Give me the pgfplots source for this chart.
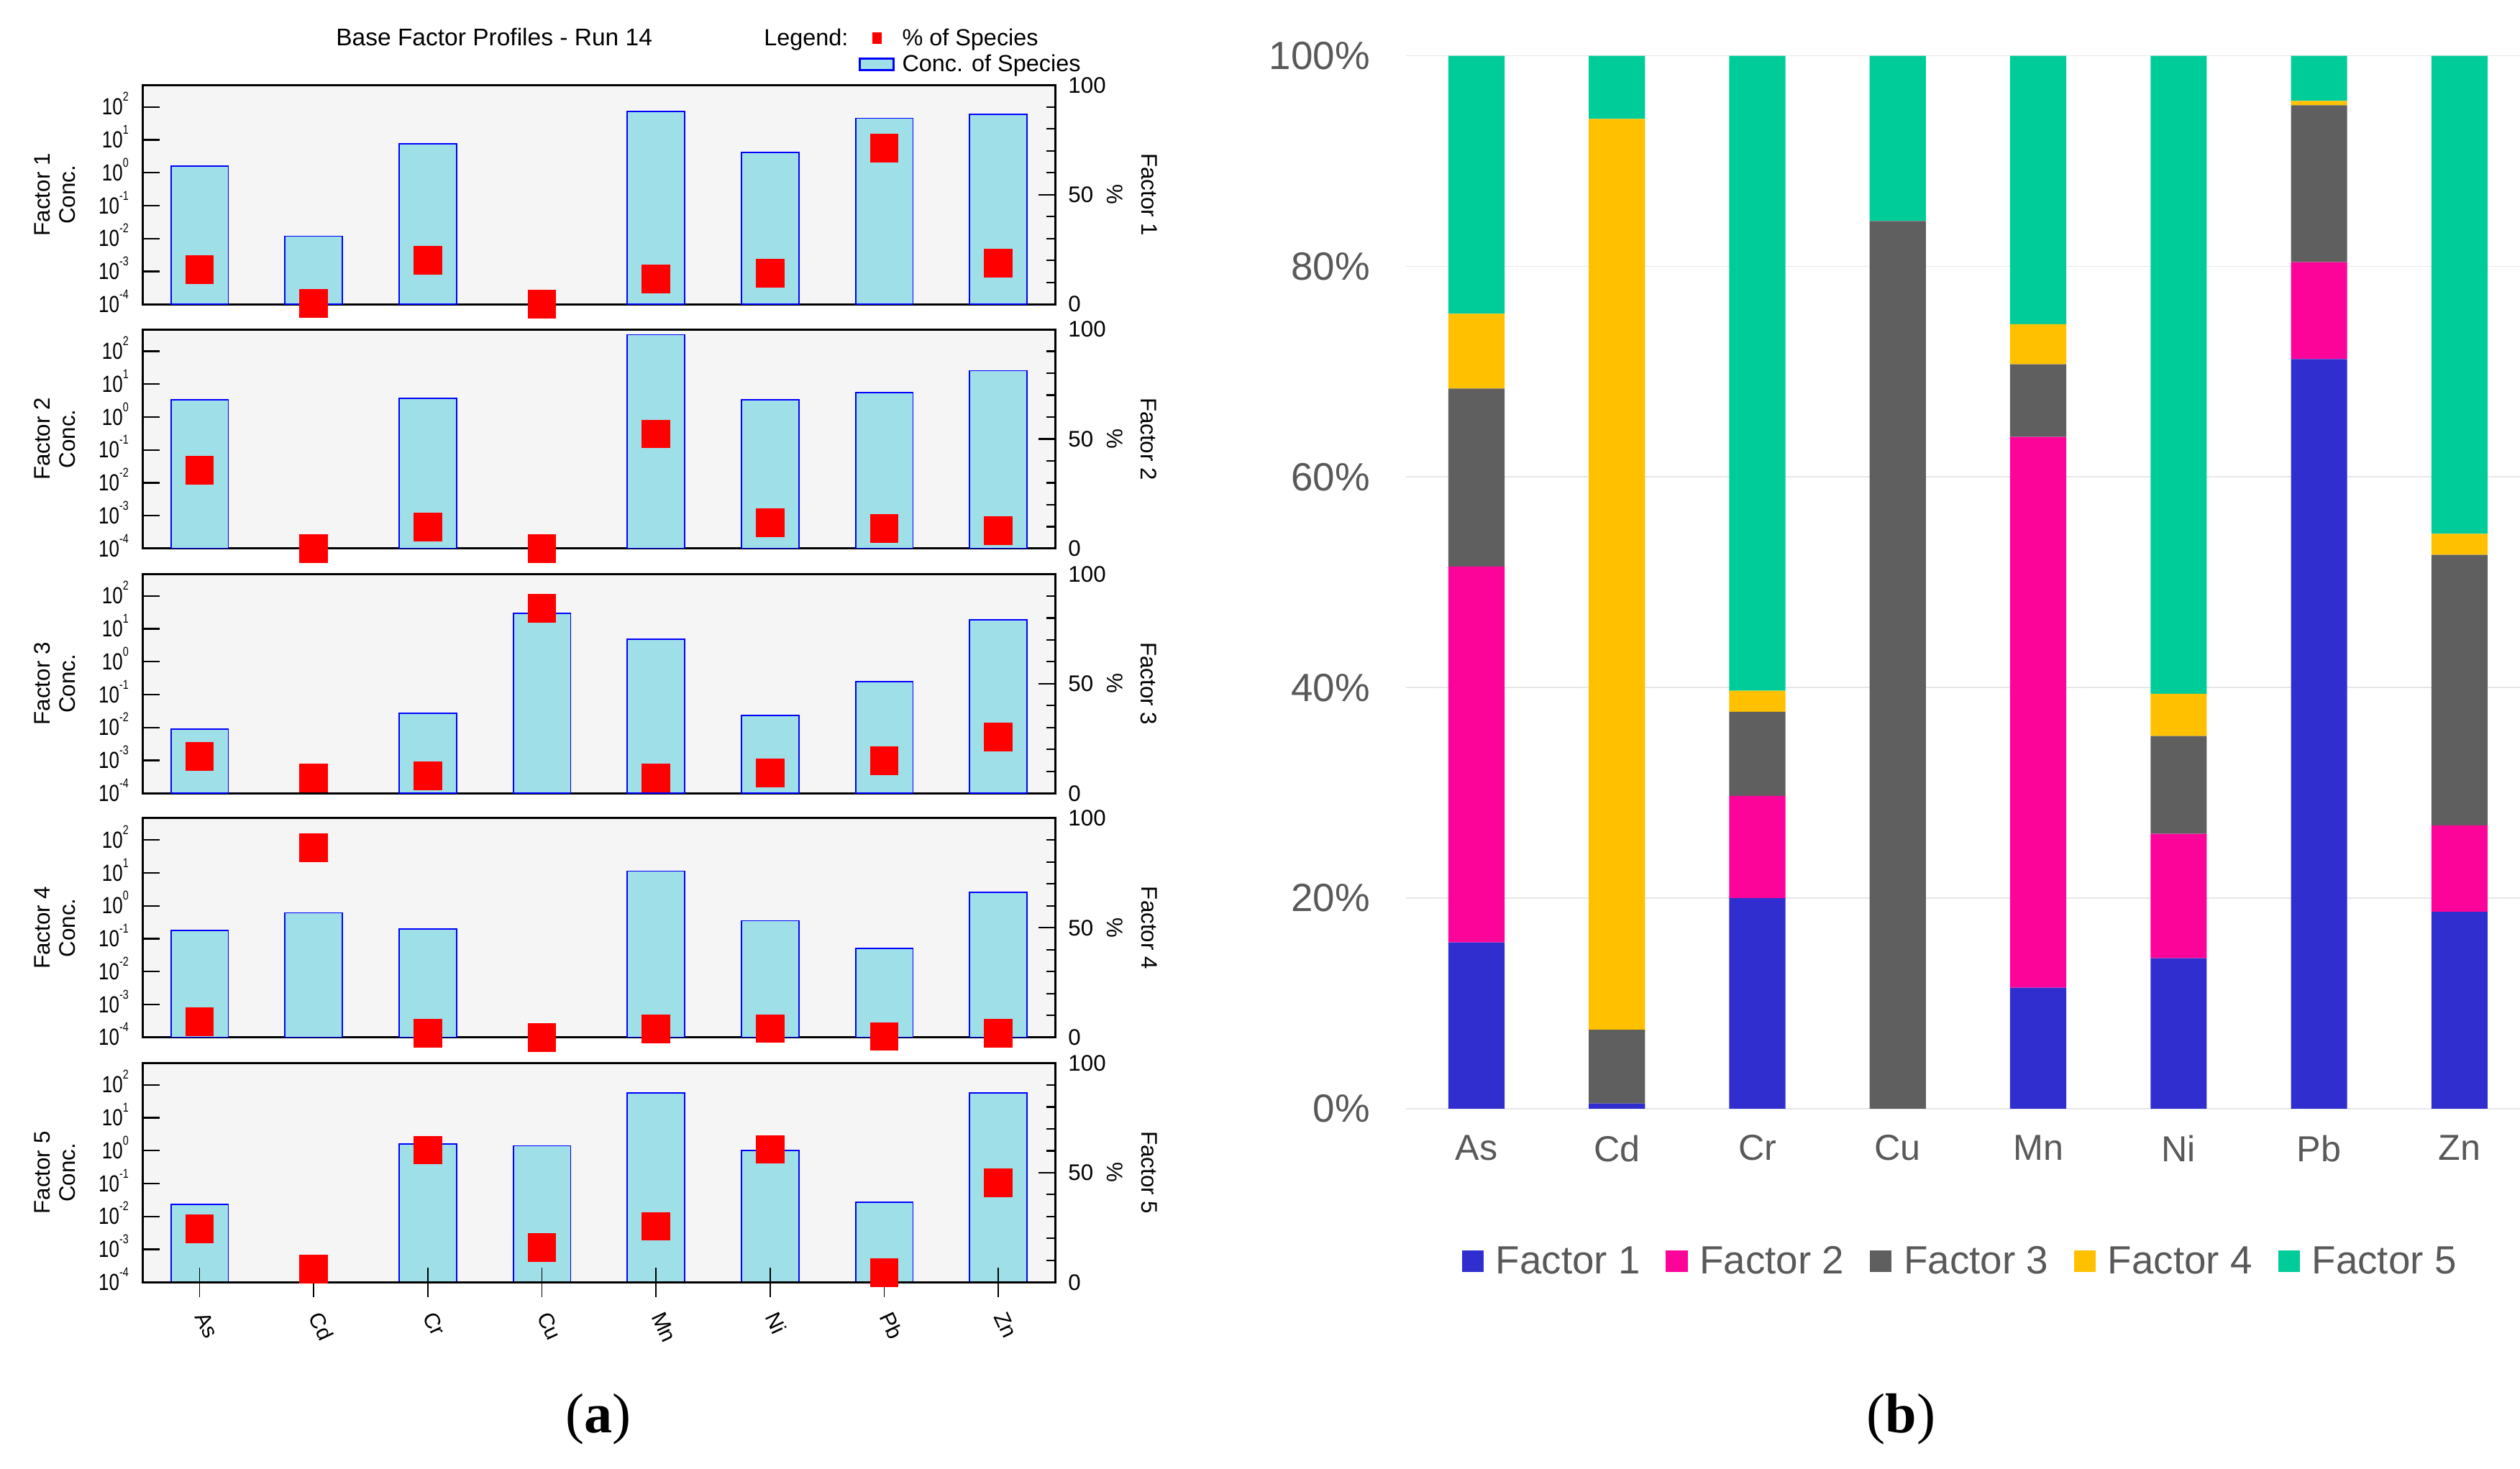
\documentclass[border=0pt]{standalone}
\usepackage{fontspec}
\setmainfont{Liberation Sans}
\newfontfamily\serifft{Liberation Serif}
\newfontfamily\narrowsf[FakeStretch=0.8]{Liberation Sans}
\usepackage{pgfplots}
\usepackage{pgfplotstable}
\pgfplotsset{compat=1.18}

\definecolor{bgc}{HTML}{F5F5F5}
\definecolor{cyanfill}{HTML}{9FE0E8}
\definecolor{barblue}{HTML}{0000FF}
\definecolor{f1}{HTML}{312ECF}
\definecolor{f2}{HTML}{FC039A}
\definecolor{f3}{HTML}{5F5F5F}
\definecolor{f4}{HTML}{FFC000}
\definecolor{f5}{HTML}{00CC99}
\definecolor{gridgray}{HTML}{E6E6E6}
\definecolor{txtgray}{HTML}{595959}

\newcommand{\ex}[1]{10\raisebox{8.5pt}[0pt][0pt]{\fontsize{8}{8}\selectfont #1}}

% percentage contribution of each factor (panel b and red squares)
\pgfplotstableread{
x F1 F2 F3 F4 F5
0 15.8 35.7 16.9 7.1 24.5
1 0.5 0.0 7.0 86.5 6.0
2 20.0 9.7 8.0 2.0 60.3
3 0.0 0.0 84.3 0.0 15.7
4 11.5 52.3 6.9 3.8 25.5
5 14.3 11.8 9.3 4.0 60.6
6 71.2 9.2 14.9 0.4 4.3
7 18.7 8.2 25.7 2.0 45.4
}\pcttable

\tikzset{facname/.style={rotate=-90, font=\fontsize{14}{14}\selectfont}}

\pgfplotsset{
  concax/.style={
    anchor=south west, scale only axis,
    width=568pt, height=136.4pt,
    xmin=-0.5, xmax=7.5, ymin=1e-4, ymax=460,
    axis background/.style={fill=bgc},
    axis line style={line width=1.3pt},
    ytick={1e-4,1e-3,1e-2,1e-1,1,10,100},
    yticklabels={\ex{-4},\ex{-3},\ex{-2},\ex{-1},\ex{0},\ex{1},\ex{2}},
    yticklabel style={font=\narrowsf\fontsize{14.5}{14.5}\selectfont, inner sep=0pt, xshift=-8.5pt},
    yminorticks=false,
    ytick pos=left, xtick=\empty, tick align=inside, major tick length=10.5pt,
    tick style={line width=1pt, black},
    bar width=0.503,
    ylabel style={align=center, font=\fontsize{14}{15.7}\selectfont,
      at={(axis description cs:-0.0734,0.5)}, anchor=south, inner sep=0pt},
  },
  pctax/.style={
    anchor=south west, scale only axis,
    width=568pt, height=136.4pt,
    xmin=-0.5, xmax=7.5, ymin=0, ymax=100,
    axis x line=none, axis y line*=right, axis line style={line width=1.3pt,-},
    ytick={0,50,100}, yticklabels={0,50,100},
    minor ytick={10,20,30,40,60,70,80,90},
    tick align=inside, major tick length=10.5pt, minor tick length=5.5pt,
    tick style={line width=1pt, black},
    yticklabel style={font=\fontsize{14}{14}\selectfont, xshift=4.5pt},
    ylabel={\%},
    ylabel style={rotate=180, at={(axis description cs:1.0651,0.5)}, anchor=center,
      font=\fontsize{14}{14}\selectfont},
    clip=false,
  },
  concbar/.style={ybar, fill=cyanfill, draw=barblue, line width=0.8pt},
  pctmark/.style={only marks, mark=square*, mark size=8.7pt,
    mark options={fill=red, draw=red, line width=0pt}},
  sqleg/.style={legend image code/.code={\fill[##1] (0pt,-6.75pt) rectangle (13.5pt,6.75pt);}},
}

\begin{document}
\begin{tikzpicture}
\path[use as bounding box] (0,0) rectangle (1568pt,914.2pt);

% ---------- panel (a) ----------
\node[font=\fontsize{15}{15}\selectfont] at (307.5pt,891.2pt) {Base Factor Profiles - Run 14};
\node[anchor=east, font=\fontsize{14.5}{14.5}\selectfont, inner sep=0pt] at (528pt,889.7pt) {Legend:};

% Factor 1
\begin{axis}[concax, at={(88.7pt,724.8pt)}, ymode=log, log origin=infty, ylabel={Factor 1\\Conc.},
  legend style={at={(axis description cs:0.7845,1.2676)}, anchor=north west,
    draw=none, fill=none, inner sep=0pt, row sep=2.4pt,
    font=\fontsize{14.5}{14.5}\selectfont, nodes={inner sep=1pt},
    /tikz/every odd column/.append style={column sep=3.7pt}},
  legend cell align=left]
\addlegendimage{legend image code/.code={\path[draw=none, fill=none] (0pt,-0.1pt) rectangle (21pt,0.1pt); \fill[red, draw=none] (7.5pt,-3.5pt) rectangle (13.5pt,3.5pt);}}
\addlegendentry{\% of Species}
\addplot[concbar, legend image code/.code={\draw[fill=cyanfill, draw=barblue, line width=1.2pt] (0pt,-3.5pt) rectangle (21pt,3.5pt);}]
  coordinates {(0,1.6) (1,0.0118) (2,7.6) (4,72) (5,4.2) (6,45) (7,60)};
\addlegendentry{Conc. of Species}
\end{axis}
\begin{axis}[pctax, at={(88.7pt,724.8pt)}]
\addplot[pctmark] table[x=x, y=F1] {\pcttable};
\node[facname] at (axis description cs:1.1026,0.5) {Factor 1};
\end{axis}

% Factor 2
\begin{axis}[concax, at={(88.7pt,572.8pt)}, ymode=log, log origin=infty, ylabel={Factor 2\\Conc.}]
\addplot[concbar] coordinates {(0,3.3) (2,3.7) (4,316) (5,3.3) (6,5.5) (7,25.7)};
\end{axis}
\begin{axis}[pctax, at={(88.7pt,572.8pt)}]
\addplot[pctmark] table[x=x, y=F2] {\pcttable};
\node[facname] at (axis description cs:1.1026,0.5) {Factor 2};
\end{axis}

% Factor 3
\begin{axis}[concax, at={(88.7pt,420.5pt)}, ymode=log, log origin=infty, ylabel={Factor 3\\Conc.}]
\addplot[concbar] coordinates {(0,0.0089) (2,0.027) (3,29) (4,4.8) (5,0.023) (6,0.25) (7,18.6)};
\end{axis}
\begin{axis}[pctax, at={(88.7pt,420.5pt)}]
\addplot[pctmark] table[x=x, y=F3] {\pcttable};
\node[facname] at (axis description cs:1.1026,0.5) {Factor 3};
\end{axis}

% Factor 4
\begin{axis}[concax, at={(88.7pt,268.6pt)}, ymode=log, log origin=infty, ylabel={Factor 4\\Conc.}]
\addplot[concbar] coordinates {(0,0.176) (1,0.61) (2,0.197) (4,11.3) (5,0.35) (6,0.05) (7,2.6)};
\end{axis}
\begin{axis}[pctax, at={(88.7pt,268.6pt)}]
\addplot[pctmark] table[x=x, y=F4] {\pcttable};
\node[facname] at (axis description cs:1.1026,0.5) {Factor 4};
\end{axis}

% Factor 5
\begin{axis}[concax, at={(88.7pt,116.2pt)}, ymode=log, log origin=infty, ylabel={Factor 5\\Conc.}]
\addplot[concbar] coordinates {(0,0.023) (2,1.6) (3,1.4) (4,57) (5,1.0) (6,0.027) (7,57)};
\end{axis}
\begin{axis}[at={(88.7pt,116.2pt)}, anchor=south west, scale only axis,
  width=568pt, height=136.4pt, xmin=-0.5, xmax=7.5, ymin=0, ymax=1,
  axis y line=none, axis x line*=bottom, axis line style={line width=1.3pt,-},
  xtick={0,1,2,3,4,5,6,7}, xticklabels={As,Cd,Cr,Cu,Mn,Ni,Pb,Zn},
  tick align=center, major tick length=18.5pt, tick style={line width=0.8pt, black},
  xticklabel style={yshift=-10pt, xshift=1pt, rotate=-65, anchor=west, inner sep=0pt,
    font=\fontsize{13.5}{13.5}\selectfont}]
\end{axis}
\begin{axis}[pctax, at={(88.7pt,116.2pt)}]
\addplot[pctmark] table[x=x, y=F5] {\pcttable};
\node[facname] at (axis description cs:1.1026,0.5) {Factor 5};
\end{axis}

% ---------- panel (b) ----------
\begin{axis}[at={(875pt,224.2pt)}, anchor=south west, scale only axis,
  width=699pt, height=655.3pt,
  ybar stacked, bar width=0.4,
  xmin=-0.5, xmax=7.5, ymin=0, ymax=100,
  axis line style={draw=none}, major tick length=0pt, tick style={draw=none},
  ytick={0,20,40,60,80,100}, yticklabels={0\%,20\%,40\%,60\%,80\%,100\%},
  xtick={0,1,2,3,4,5,6,7}, xticklabels={As,Cd,Cr,Cu,Mn,Ni,Pb,Zn},
  yticklabel style={font=\fontsize{24.5}{24.5}\selectfont, text=txtgray, xshift=-19pt},
  xticklabel style={font=\fontsize{22.5}{22.5}\selectfont, text=txtgray, yshift=-13pt},
  ymajorgrids, grid style={line width=0.8pt, gridgray},
  legend columns=5,
  legend style={at={(axis description cs:0.4921,-0.145)}, anchor=center,
    draw=none, fill=none, font=\fontsize{24.5}{24.5}\selectfont, text=txtgray,
    nodes={inner sep=0pt},
    /tikz/every odd column/.append style={column sep=7.6pt},
    /tikz/every even column/.append style={column sep=16pt}},
]
\addplot[fill=f1, draw=none, sqleg] table[x=x, y=F1] {\pcttable};
\addlegendentry{Factor 1}
\addplot[fill=f2, draw=none, sqleg] table[x=x, y=F2] {\pcttable};
\addlegendentry{Factor 2}
\addplot[fill=f3, draw=none, sqleg] table[x=x, y=F3] {\pcttable};
\addlegendentry{Factor 3}
\addplot[fill=f4, draw=none, sqleg] table[x=x, y=F4] {\pcttable};
\addlegendentry{Factor 4}
\addplot[fill=f5, draw=none, sqleg] table[x=x, y=F5] {\pcttable};
\addlegendentry{Factor 5}
\end{axis}

% captions
\node[font=\serifft\fontsize{35}{35}\selectfont] at (372.3pt,31.1pt) {(\textbf{a})};
\node[font=\serifft\fontsize{35}{35}\selectfont] at (1182.9pt,31.1pt) {(\textbf{b})};
\end{tikzpicture}
\end{document}
